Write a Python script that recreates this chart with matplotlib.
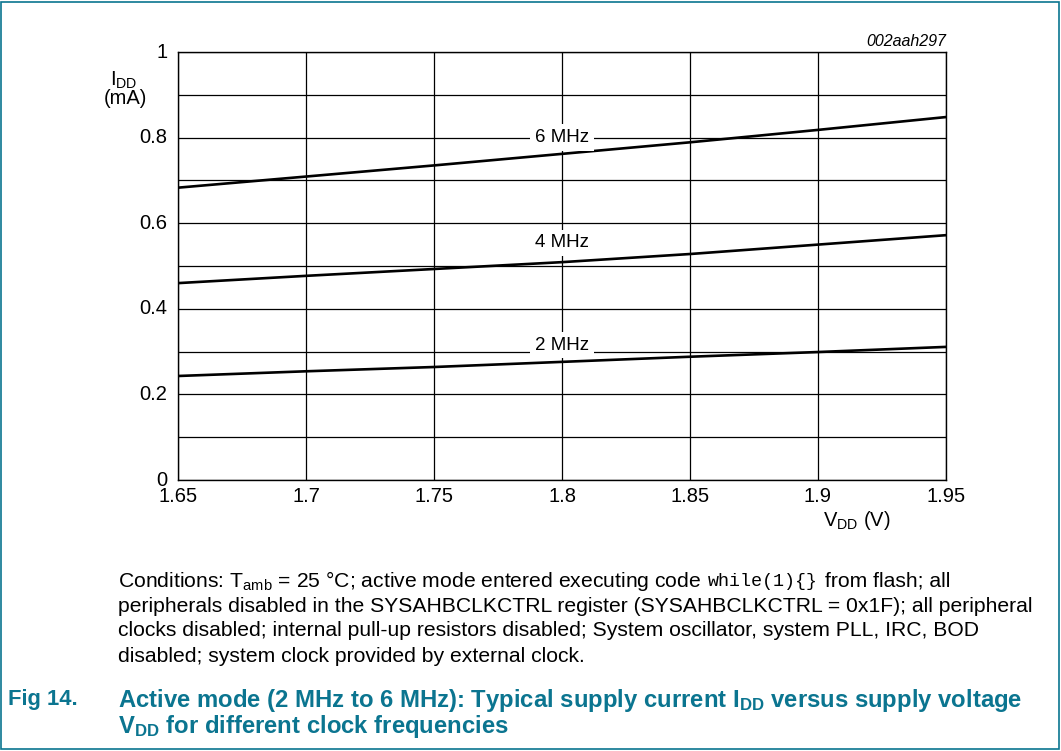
import numpy as np
import matplotlib
matplotlib.use('Agg')
import matplotlib.pyplot as plt
from matplotlib.patches import Rectangle

plt.rcParams['font.family'] = ['Liberation Sans', 'DejaVu Sans']
plt.rcParams['mathtext.fontset'] = 'custom'
plt.rcParams['mathtext.rm'] = 'Liberation Sans'
plt.rcParams['mathtext.it'] = 'Liberation Sans:italic'
plt.rcParams['mathtext.bf'] = 'Liberation Sans:bold'

# data
vdd = [1.65, 1.70, 1.75, 1.80, 1.85, 1.90, 1.95]
idd_6mhz = [0.683, 0.709, 0.735, 0.762, 0.789, 0.818, 0.848]
idd_4mhz = [0.460, 0.477, 0.493, 0.509, 0.528, 0.550, 0.572]
idd_2mhz = [0.243, 0.254, 0.264, 0.276, 0.288, 0.299, 0.311]
labels = ['6 MHz', '4 MHz', '2 MHz']
label_pos = [(1.80, 0.80), (1.80, 0.554), (1.80, 0.315)]
x_ticks = [1.65, 1.7, 1.75, 1.8, 1.85, 1.9, 1.95]
x_ticklabels = ['1.65', '1.7', '1.75', '1.8', '1.85', '1.9', '1.95']
y_ticks = [0, 0.2, 0.4, 0.6, 0.8, 1]
y_ticklabels = ['0', '0.2', '0.4', '0.6', '0.8', '1']

teal = '#0b7590'
W, H = 1061, 751

fig = plt.figure(figsize=(10.61, 7.51), dpi=100)
ax = fig.add_axes([178/W, 1-480/H, 768/W, 428/H])

for ys in (idd_6mhz, idd_4mhz, idd_2mhz):
    ax.plot(vdd, ys, color='black', lw=1.9, zorder=3)

for lab, (lx, ly) in zip(labels, label_pos):
    ax.text(lx, ly, lab, ha='center', va='center', fontsize=13.5, zorder=4,
            bbox=dict(boxstyle='square,pad=0.25', fc='white', ec='none'))

ax.set_xlim(1.65, 1.95)
ax.set_ylim(0, 1)
ax.set_xticks(np.arange(1.65, 1.951, 0.05))
ax.set_yticks(np.arange(0, 1.01, 0.1))
ax.grid(True, color='black', lw=0.9)
ax.tick_params(length=0, labelbottom=False, labelleft=False)
for s in ax.spines.values():
    s.set_linewidth(1.0)

# tick labels
for xv, xl in zip(x_ticks, x_ticklabels):
    ax.text(xv, -0.017, xl, ha='center', va='top', fontsize=14.5,
            transform=ax.get_xaxis_transform())
for yv, yl in zip(y_ticks, y_ticklabels):
    ax.text(-0.014, yv, yl, ha='right', va='center', fontsize=14.5,
            transform=ax.get_yaxis_transform())

fig.text(110/W, 1-80/H, 'I$_{\\mathrm{DD}}$', ha='left', va='center', fontsize=14.5)
fig.text(125/W, 1-99/H, '(mA)', ha='center', va='center', fontsize=14.5)
fig.text(857/W, 1-521/H, 'V$_{\\mathrm{DD}}$ (V)', ha='center', va='center', fontsize=14.5)
fig.text(946/W, 1-42/H, '002aah297', ha='right', va='center', fontsize=11.5, style='italic')

# conditions note, first line built from pieces so the code part is monospaced
renderer = fig.canvas.get_renderer()
pieces = [
    (r'Conditions: T$_{\mathrm{amb}}$ = 25 °C; active mode entered executing code', 'Liberation Sans', 15.2),
    ('while(1){}', 'Liberation Mono', 13.2),
    ('from flash; all', 'Liberation Sans', 15.2),
]
x0 = 118
for txt, fam, fs in pieces:
    t = fig.text(x0/W, 1-581/H, txt, ha='left', va='center', fontsize=fs, family=fam)
    bb = t.get_window_extent(renderer)
    x0 = x0 + bb.width + 7

cond = [
    'peripherals disabled in the SYSAHBCLKCTRL register (SYSAHBCLKCTRL = 0x1F); all peripheral',
    'clocks disabled; internal pull-up resistors disabled; System oscillator, system PLL, IRC, BOD',
    'disabled; system clock provided by external clock.',
]
for i, line in enumerate(cond):
    fig.text(118/W, 1-(606+25*i)/H, line, ha='left', va='center', fontsize=15.2)

fig.text(8/W, 1-700/H, 'Fig 14.', ha='left', va='center', fontsize=15.8,
         fontweight='bold', color=teal)
fig.text(118/W, 1-700/H,
         r'Active mode (2 MHz to 6 MHz): Typical supply current I$_{\mathbf{DD}}$ versus supply voltage',
         ha='left', va='center', fontsize=17.2, fontweight='bold', color=teal)
fig.text(118/W, 1-726/H, r'V$_{\mathbf{DD}}$ for different clock frequencies',
         ha='left', va='center', fontsize=17.2, fontweight='bold', color=teal)

fig.patches.append(Rectangle((1/W, 2/H), 1058/W, 747/H, transform=fig.transFigure,
                             fill=False, ec=teal, lw=1.2))

fig.savefig('out.png', dpi=100)
